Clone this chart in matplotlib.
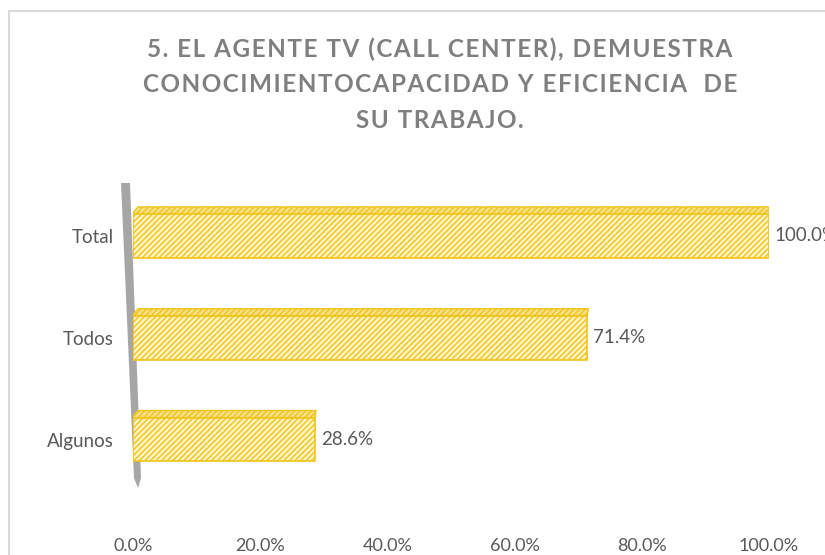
import numpy as np
import matplotlib
matplotlib.use("Agg")
import matplotlib.pyplot as plt
from matplotlib.patches import Polygon, Rectangle

# data
categorias = ["Algunos", "Todos", "Total"]
valores = [0.286, 0.714, 1.0]
ticks = [0.0, 0.2, 0.4, 0.6, 0.8, 1.0]
titulo = ["5. EL AGENTE TV (CALL CENTER), DEMUESTRA",
          "CONOCIMIENTOCAPACIDAD Y EFICIENCIA  DE",
          "SU TRABAJO."]

plt.rcParams['font.family'] = ['Lato', 'DejaVu Sans']
W, H = 825, 555
fig = plt.figure(figsize=(W / 100, H / 100), dpi=100)

# frame
fig.patches.append(Rectangle((9 / W, -0.01), 1.0, 1 - 11 / H + 0.01, transform=fig.transFigure,
                             fill=False, edgecolor="#d9d9d9", lw=1.5))

ax = fig.add_axes([133 / W, 35 / H, (769 - 133) / W, (372 - 35) / H])
ax.patch.set_visible(False)
ax.set_xlim(0, 1)
ax.set_ylim(-0.79, 2.52)

gris = "#595959"
relleno = "#fff3c4"
borde = "#f0c419"
y = np.arange(len(categorias))
alto = 0.43
ax.barh(y, valores, height=alto, color=relleno, edgecolor=borde, hatch="//////", lw=1.2, zorder=3)
# top faces (3D look)
for yi, v in zip(y, valores):
    top = yi + alto / 2
    ax.add_patch(Polygon([(-0.002, top), (0.008, top + 0.07), (v + 0.002, top + 0.07), (v, top)],
                         closed=True, facecolor="#f7e08a", edgecolor=borde, hatch="//////",
                         lw=1, zorder=2))
    ax.text(v + 0.009, yi, f"{v * 100:.1f}%", va="center", ha="left", fontsize=13.5, color=gris)

# side wall
wall = Polygon([(121 / W, 1 - 183 / H), (130 / W, 1 - 183 / H), (141 / W, 1 - 478 / H),
                (138 / W, 1 - 488 / H), (134 / W, 1 - 478 / H)],
               closed=True, transform=fig.transFigure, facecolor="#a6a6a6", edgecolor="none", zorder=-1)
fig.patches.append(wall)

ax.set_yticks(y)
ax.set_yticklabels(categorias, fontsize=13.5, color=gris)
ax.set_xticks(ticks)
ax.set_xticklabels([f"{t * 100:.1f}%" for t in ticks], fontsize=13, color=gris)
ax.tick_params(axis="x", length=0, pad=13)
ax.tick_params(axis="y", length=0, pad=14)
for s in ax.spines.values():
    s.set_visible(False)

for i, linea in enumerate(titulo):
    fig.text(440 / W, 1 - (49 + 35.5 * i) / H, "\u200a".join(linea), ha="center", va="center",
             fontsize=17.5, color="#7f7f7f", fontweight="bold")

fig.savefig("out.png", dpi=100)
